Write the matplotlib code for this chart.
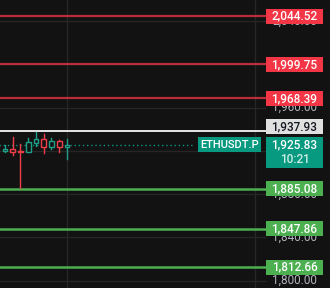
import matplotlib
matplotlib.use('Agg')
import matplotlib.pyplot as plt
import matplotlib.transforms as mtransforms
from matplotlib.patches import Rectangle

# candle data (oldest -> newest)
opens = [1919.5, 1921.7, 1919.8, 1919.2, 1927.5, 1930.6, 1923.2, 1928.7, 1923.2]
highs = [1925.6, 1933.0, 1926.3, 1931.5, 1937.1, 1935.5, 1931.8, 1930.0, 1930.6]
lows = [1919.0, 1916.1, 1885.4, 1919.0, 1924.7, 1917.7, 1921.4, 1919.2, 1912.4]
closes = [1921.7, 1918.6, 1919.2, 1927.9, 1930.6, 1923.2, 1928.7, 1923.2, 1925.83]

red_levels = [2044.52, 1999.75, 1968.39]
green_levels = [1885.08, 1847.86, 1812.66]
high_level = 1937.93
last_price = 1925.83
symbol = 'ETHUSDT.P'
countdown = '10:21'
grid_prices = [1800, 1840, 1880, 1920, 1960, 2000, 2040]
# scale labels that are not fully covered by a price tag
scale_labels = [1800, 1840, 1880, 1960, 2040]
grid_x = [8, 32.26]

BG = '#121212'
UP = '#1f9e89'
DOWN = '#ef3e4a'
RED = '#f23645'
GREEN = '#4caf50'
TEAL = '#089981'
GRID = '#262626'
FONT = ['Roboto', 'DejaVu Sans']

fig = plt.figure(figsize=(3.3, 2.88), dpi=100, facecolor=BG)
ax = fig.add_axes([0, 0, 1, 1])
ax.set_facecolor(BG)
ax.set_xlim(-0.645, 41.94)
ax.set_ylim(1793.3, 2059.3)
ax.axis('off')

px = 1 / 1.0826  # price units per pixel
x_end = 33.55     # where the plot area meets the price scale

for g in grid_prices:
    ax.plot([-1, x_end], [g, g], color=GRID, lw=1, zorder=0)
for gx in grid_x:
    ax.axvline(gx, color=GRID, lw=1, zorder=0)

# level lines
for lv in red_levels:
    ax.plot([-1, x_end], [lv, lv], color=RED, lw=1.6, alpha=0.75, zorder=2)
for lv in green_levels:
    ax.plot([-1, x_end], [lv, lv], color=GREEN, lw=1.8, zorder=2)
ax.plot([-1, x_end], [high_level, high_level], color='#e6e6e6', lw=1.4, zorder=2)
ax.plot([-1, 24.4], [last_price, last_price], color=TEAL, lw=1,
        linestyle=(0, (1, 2)), zorder=2)

# candles
for i, (o, h, l, c) in enumerate(zip(opens, highs, lows, closes)):
    col = UP if c >= o else DOWN
    lo, hi = min(o, c), max(o, c)
    ax.plot([i, i], [l, lo], color=col, lw=1, zorder=3)
    ax.plot([i, i], [hi, h], color=col, lw=1, zorder=3)
    ax.add_patch(Rectangle((i - 0.3, lo), 0.6, max(hi - lo, 0.6),
                           facecolor=BG, edgecolor=col, lw=1, zorder=4))

# price scale
trans = mtransforms.blended_transform_factory(ax.transAxes, ax.transData)
bx0, bx1 = 266 / 330, 323 / 330
bxc = (bx0 + bx1) / 2
bh = 15 * px

for g in scale_labels:
    ax.text(bxc, g, f'{g:,.2f}', transform=trans, ha='center', va='center',
            fontsize=8.5, color='#b2b5be', zorder=5, family=FONT)


def price_box(price, text, face, tcolor='white', shift=0.0, h=bh):
    y0 = price + shift - bh / 2
    top = y0 + bh
    ax.add_patch(Rectangle((bx0, top - h), bx1 - bx0, h, transform=trans,
                           facecolor=face, edgecolor='none', zorder=6))
    ax.text(bxc, top - bh / 2, text, transform=trans, ha='center',
            va='center', fontsize=8.5, color=tcolor, zorder=7, family=FONT,
            weight='medium')


for lv in red_levels:
    price_box(lv, f'{lv:,.2f}', RED)
for lv in green_levels:
    price_box(lv, f'{lv:,.2f}', GREEN)
price_box(high_level, f'{high_level:,.2f}', '#e0e0e0', tcolor='#131722',
          shift=4.5 * px)
price_box(last_price, f'{last_price:,.2f}', TEAL, h=31 * px)
ax.text(bxc, last_price - 15 * px, countdown, transform=trans, ha='center',
        va='center', fontsize=8.5, color='#d0ece6', zorder=7, family=FONT,
        weight='medium')

# symbol tag
sx0, sx1 = 198 / 330, 261 / 330
ax.add_patch(Rectangle((sx0, last_price - bh / 2), sx1 - sx0, bh,
                       transform=trans, facecolor=TEAL, edgecolor='none',
                       zorder=6))
ax.text((sx0 + sx1) / 2, last_price, symbol, transform=trans, ha='center',
        va='center', fontsize=8, color='white', zorder=7, family=FONT,
        weight='medium')

fig.savefig('out.png', dpi=100, facecolor=BG)
